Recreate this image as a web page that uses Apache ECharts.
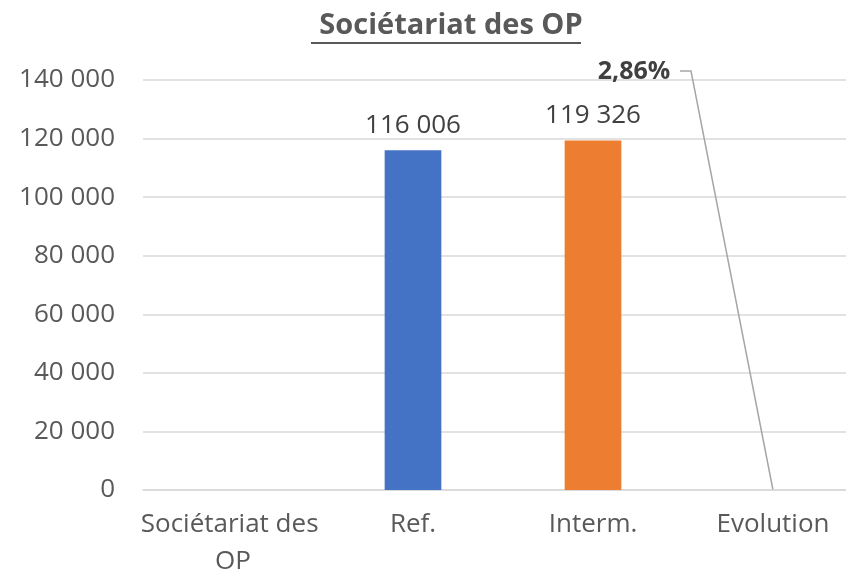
<!DOCTYPE html>
<html>
<head>
<meta charset="utf-8">
<script src="https://cdn.jsdelivr.net/npm/echarts@6/dist/echarts.min.js"></script>
<style>
  html, body { margin: 0; padding: 0; background: #fff; }
  #chart { width: 846px; height: 572px; }
</style>
</head>
<body>
<div id="chart"></div>
<script>
const categories = ['Sociétariat des OP', 'Ref.', 'Interm.', 'Evolution'];
const values = [null, 116006, 119326, null];
const evolution = [null, null, null, 0.0286];
const barColors = ['#4472C4', '#4472C4', '#ED7D31', '#A5A5A5'];
const yTicks = { min: 0, max: 140000, interval: 20000 };

const FONT = '"Open Sans", sans-serif';
const FS = 26;

const fmtNum = v => String(Math.round(v)).replace(/\B(?=(\d{3})+(?!\d))/g, ' ');
const fmtPct = v => (v * 100).toFixed(2).replace('.', ',') + '%';

const chart = echarts.init(document.getElementById('chart'));

chart.setOption({
  animation: false,
  title: {
    text: 'Sociétariat des OP',
    left: 446,
    textAlign: 'center',
    top: 6,
    textStyle: { color: '#595959', fontSize: 29, fontWeight: 'bold', fontFamily: FONT }
  },
  grid: {
    left: 143, top: 80, width: 720, bottom: 82,
    outerBoundsMode: 'none', containLabel: false
  },
  xAxis: [{
    type: 'category',
    data: categories,
    axisLine: { lineStyle: { color: '#D9D9D9', width: 1.5 } },
    axisTick: { show: false },
    axisLabel: {
      interval: 0,
      color: '#595959',
      fontSize: FS,
      fontFamily: FONT,
      margin: 16,
      lineHeight: 37,
      width: 205,
      overflow: 'break'
    }
  }, {
    type: 'category',
    data: categories,
    show: false
  }],
  yAxis: {
    type: 'value',
    min: yTicks.min,
    max: yTicks.max,
    interval: yTicks.interval,
    axisLine: { show: false },
    axisTick: { show: false },
    splitLine: { lineStyle: { color: '#D9D9D9', width: 1.5 } },
    axisLabel: {
      color: '#595959',
      fontSize: FS,
      fontFamily: FONT,
      margin: 28,
      formatter: fmtNum
    }
  },
  series: [{
    type: 'bar',
    barWidth: '31.5%',
    data: values.map((v, i) => ({ value: v, itemStyle: { color: barColors[i] } })),
    label: {
      show: true,
      position: 'top',
      distance: 12,
      color: '#404040',
      fontSize: FS,
      fontFamily: FONT,
      formatter: p => fmtNum(p.value)
    }
  }, {
    type: 'bar',
    xAxisIndex: 1,
    barWidth: 1,
    data: evolution,
    itemStyle: { color: 'rgba(0,0,0,0)' },
    label: {
      show: true,
      position: 'top',
      color: '#404040',
      fontSize: 25,
      fontWeight: 'bold',
      fontFamily: FONT,
      formatter: p => fmtPct(p.value)
    },
    labelLayout: { x: 634, y: 72, align: 'center', verticalAlign: 'middle' }
  }]
});

// underline of the title and leader line from the "2,86%" label to its bar
const base = chart.convertToPixel({ xAxisIndex: 1, yAxisIndex: 0 }, ['Evolution', evolution[3]]);
chart.setOption({
  graphic: [{
    type: 'line',
    shape: { x1: 311, y1: 43, x2: 581, y2: 43 },
    style: { stroke: '#595959', lineWidth: 2 }
  }, {
    type: 'polyline',
    shape: { points: [[680, 71], [691, 71], base] },
    style: { stroke: '#A6A6A6', lineWidth: 1.5, fill: null }
  }]
});
</script>
</body>
</html>
